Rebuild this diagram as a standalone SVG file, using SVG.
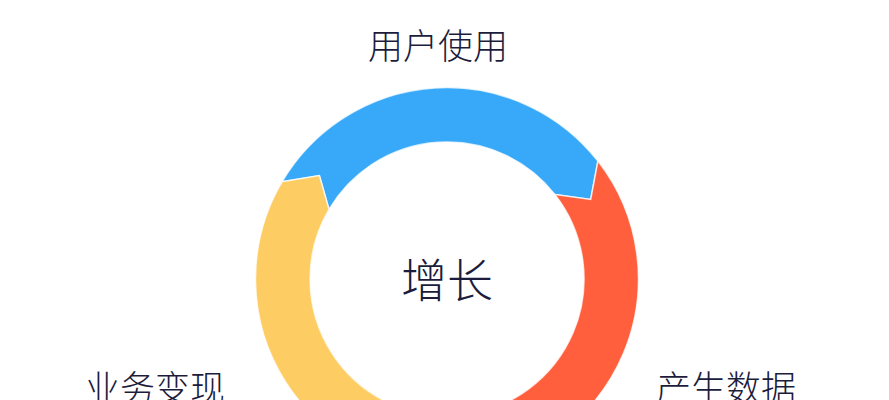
<svg xmlns="http://www.w3.org/2000/svg" width="889" height="400" viewBox="0 0 889 400">
  <style>
    .seg { stroke: #ffffff; stroke-opacity: 0.75; stroke-width: 1.5; stroke-linejoin: miter; }
    .lbl { font-family: "Noto Sans CJK SC", "Noto Sans", sans-serif; font-weight: 300; fill: #1c1c3c; text-anchor: middle; }
  </style>
  <rect width="889" height="400" fill="#ffffff"/>
  <g id="node-usage">
    <path class="seg" fill="#37a9f8" d="M282.0,181.8 A191.5,191.5 0 0 1 597.9,161.1 L590.7,199.4 L555.0,194.6 A137,137 0 0 0 329.0,209.5 L319.4,175.6 Z"/>
    <text class="lbl" x="438" y="59" font-size="35">用户使用</text>
  </g>
  <g id="node-data">
    <path class="seg" fill="#ff5f3c" d="M597.9,161.1 A191.5,191.5 0 0 1 467.0,469.4 L438.4,443.0 L461.3,415.2 A137,137 0 0 0 555.0,194.6 L590.7,199.4 Z"/>
    <text class="lbl" x="726" y="401" font-size="35">产生数据</text>
  </g>
  <g id="node-monetize">
    <path class="seg" fill="#fdcc63" d="M467.0,469.4 A191.5,191.5 0 0 1 282.0,181.8 L319.4,175.6 L329.0,209.5 A137,137 0 0 0 461.3,415.2 L438.4,443.0 Z"/>
    <text class="lbl" x="155" y="401" font-size="35">业务变现</text>
  </g>
  <g id="node-growth">
    <text class="lbl" x="447" y="297" font-size="46">增长</text>
  </g>
</svg>
